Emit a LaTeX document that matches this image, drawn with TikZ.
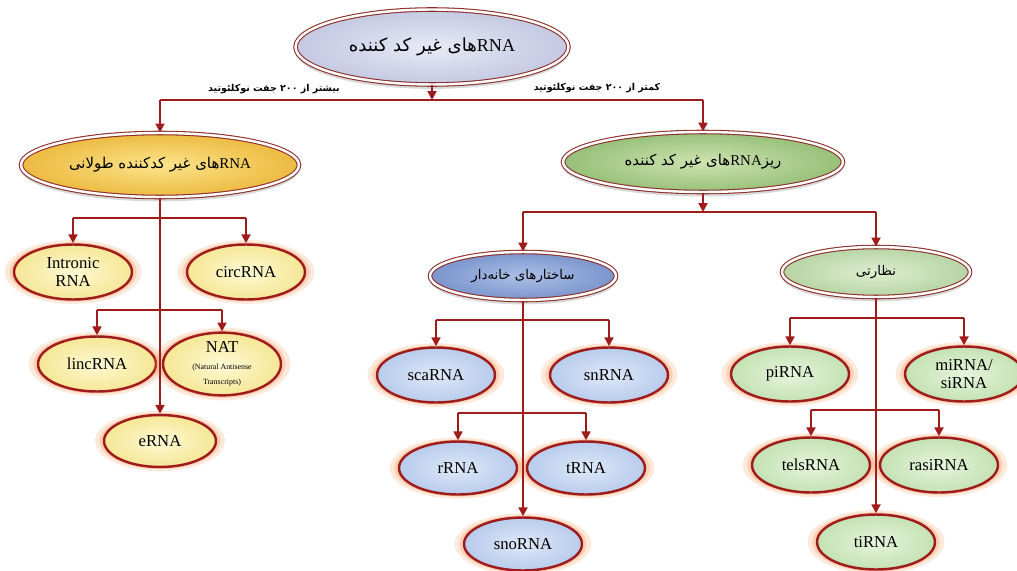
\documentclass[tikz,border=0pt]{standalone}
\usepackage{fontspec}
\setmainfont{Liberation Serif}
\newfontfamily\fa[Script=Arabic]{DejaVu Sans}
\TeXXeTstate=1
\usetikzlibrary{shapes.geometric,shadows,arrows.meta}

\definecolor{wine}{RGB}{160,28,28}
\definecolor{rim}{RGB}{140,45,40}
\definecolor{glow}{RGB}{250,160,100}
\definecolor{lavin}{RGB}{232,234,246}
\definecolor{lavout}{RGB}{196,200,226}
\definecolor{goldin}{RGB}{252,228,140}
\definecolor{goldout}{RGB}{236,186,64}
\definecolor{grnin}{RGB}{205,228,178}
\definecolor{grnout}{RGB}{150,192,120}
\definecolor{bluin}{RGB}{172,192,230}
\definecolor{bluout}{RGB}{122,148,204}
\definecolor{mintin}{RGB}{222,238,208}
\definecolor{mintout}{RGB}{182,212,164}
\definecolor{ylwin}{RGB}{254,250,212}
\definecolor{ylwout}{RGB}{246,230,150}
\definecolor{skyin}{RGB}{222,232,248}
\definecolor{skyout}{RGB}{184,204,236}
\definecolor{lgin}{RGB}{230,244,220}
\definecolor{lgout}{RGB}{196,226,180}

\newcommand{\rna}{{\rmfamily RNA}}

\begin{document}
\begin{tikzpicture}[x=0.02cm, y=-0.02cm,
    wire/.style = {draw=wine, line width=1.3pt},
    arr/.style = {wire, -{Triangle[length=5pt, width=5pt]}},
    head/.style = {ellipse, draw=rim, line width=.6pt, double=white, double distance=1.4pt,
                   inner sep=0pt, drop shadow={opacity=.3, shadow xshift=0pt, shadow yshift=-2.5pt},
                   font=\fa\fontsize{8.5}{10}\selectfont},
    leaf/.style = {ellipse, draw=wine, line width=1.4pt, inner sep=0pt,
                   minimum width=2.36cm, minimum height=1.1cm, align=center,
                   font=\fontsize{9.5}{10.5}\selectfont,
                   general shadow={fill=glow, opacity=.22, shadow scale=1.16},
                   general shadow={fill=glow, opacity=.35, shadow scale=1.08}},
    ylw/.style = {leaf, inner color=ylwin, outer color=ylwout},
    sky/.style = {leaf, inner color=skyin, outer color=skyout},
    lg/.style = {leaf, inner color=lgin, outer color=lgout},
    note/.style = {font=\fa\bfseries\fontsize{5.4}{7}\selectfont, inner sep=1pt}]

    \useasboundingbox (0,0) rectangle (1017,571);

    \node[head, minimum width=5.46cm, minimum height=1.5cm, inner color=lavin, outer color=lavout,
          font=\fa\fontsize{10.3}{12}\selectfont] (root) at (432,47) {\beginR\rna های غیر کد کننده\endR};

    \node[head, minimum width=5.56cm, minimum height=1.28cm, inner color=goldin, outer color=goldout] (long) at (160,165) {\beginR\rna های غیر کدکننده طولانی\endR};
    \node[head, minimum width=5.6cm, minimum height=1.2cm, inner color=grnin, outer color=grnout] (small) at (703,162) {\beginR ریز\rna های غیر کد کننده\endR};

    \node[note] (more) at (274,89) {\beginR بیشتر از ۲۰۰ جفت نوکلئوتید\endR};
    \node[note] (less) at (597,88) {\beginR کمتر از ۲۰۰ جفت نوکلئوتید\endR};

    \node[ylw] (intr) at (73,272) {Intronic\\RNA};
    \node[ylw] (circ) at (246,272) {circRNA};
    \node[ylw] (linc) at (97,364) {lincRNA};
    \node[ylw] (nat) at (222,364) {NAT\\[-1pt]{\fontsize{4.5}{5}\selectfont (Natural Antisense}\\[-2pt]{\fontsize{4.5}{5}\selectfont Transcripts)}};
    \node[ylw, minimum width=2.24cm, minimum height=1.04cm] (erna) at (160,441) {eRNA};

    \node[head, minimum width=3.72cm, minimum height=.96cm, inner color=bluin, outer color=bluout,
          font=\fa\fontsize{7.6}{9}\selectfont] (house) at (523,276) {\beginR ساختارهای خانه‌دار\endR};
    \node[head, minimum width=3.76cm, minimum height=1cm, inner color=mintin, outer color=mintout,
          font=\fa\fontsize{7.6}{9}\selectfont] (reg) at (876,272) {\beginR نظارتی\endR};

    \node[sky] (sca) at (436,375) {scaRNA};
    \node[sky] (sn) at (609,375) {snRNA};
    \node[sky, minimum height=1.06cm] (rr) at (458,468) {rRNA};
    \node[sky, minimum height=1.06cm] (tr) at (586,468) {tRNA};
    \node[sky, minimum height=1.06cm] (sno) at (523,544) {snoRNA};

    \node[lg] (pi) at (790,374) {piRNA};
    \node[lg] (mi) at (964,374) {miRNA/\\siRNA};
    \node[lg] (tels) at (811,465) {telsRNA};
    \node[lg] (rasi) at (939,465) {rasiRNA};
    \node[lg] (ti) at (876,542) {tiRNA};

    \coordinate (j0) at (432,100);
    \draw[arr] (root) -- (root |- j0);
    \draw[wire] (long |- j0) -- (small |- j0);
    \draw[arr] (long |- j0) -- (long);
    \draw[arr] (small |- j0) -- (small);

    \coordinate (j1) at (160,218);
    \coordinate (j2) at (160,310);
    \draw[arr] (long) -- (erna);
    \draw[wire] (intr |- j1) -- (circ |- j1);
    \draw[arr] (intr |- j1) -- (intr);
    \draw[arr] (circ |- j1) -- (circ);
    \draw[wire] (linc |- j2) -- (nat |- j2);
    \draw[arr] (linc |- j2) -- (linc);
    \draw[arr] (nat |- j2) -- (nat);

    \coordinate (j3) at (703,212);
    \draw[arr] (small) -- (small |- j3);
    \draw[wire] (house |- j3) -- (reg |- j3);
    \draw[arr] (house |- j3) -- (house);
    \draw[arr] (reg |- j3) -- (reg);

    \coordinate (j4) at (523,320);
    \coordinate (j5) at (523,413);
    \draw[arr] (house) -- (sno);
    \draw[wire] (sca |- j4) -- (sn |- j4);
    \draw[arr] (sca |- j4) -- (sca);
    \draw[arr] (sn |- j4) -- (sn);
    \draw[wire] (rr |- j5) -- (tr |- j5);
    \draw[arr] (rr |- j5) -- (rr);
    \draw[arr] (tr |- j5) -- (tr);

    \coordinate (j6) at (876,318);
    \coordinate (j7) at (876,410);
    \draw[arr] (reg) -- (ti);
    \draw[wire] (pi |- j6) -- (mi |- j6);
    \draw[arr] (pi |- j6) -- (pi);
    \draw[arr] (mi |- j6) -- (mi);
    \draw[wire] (tels |- j7) -- (rasi |- j7);
    \draw[arr] (tels |- j7) -- (tels);
    \draw[arr] (rasi |- j7) -- (rasi);
\end{tikzpicture}
\end{document}
